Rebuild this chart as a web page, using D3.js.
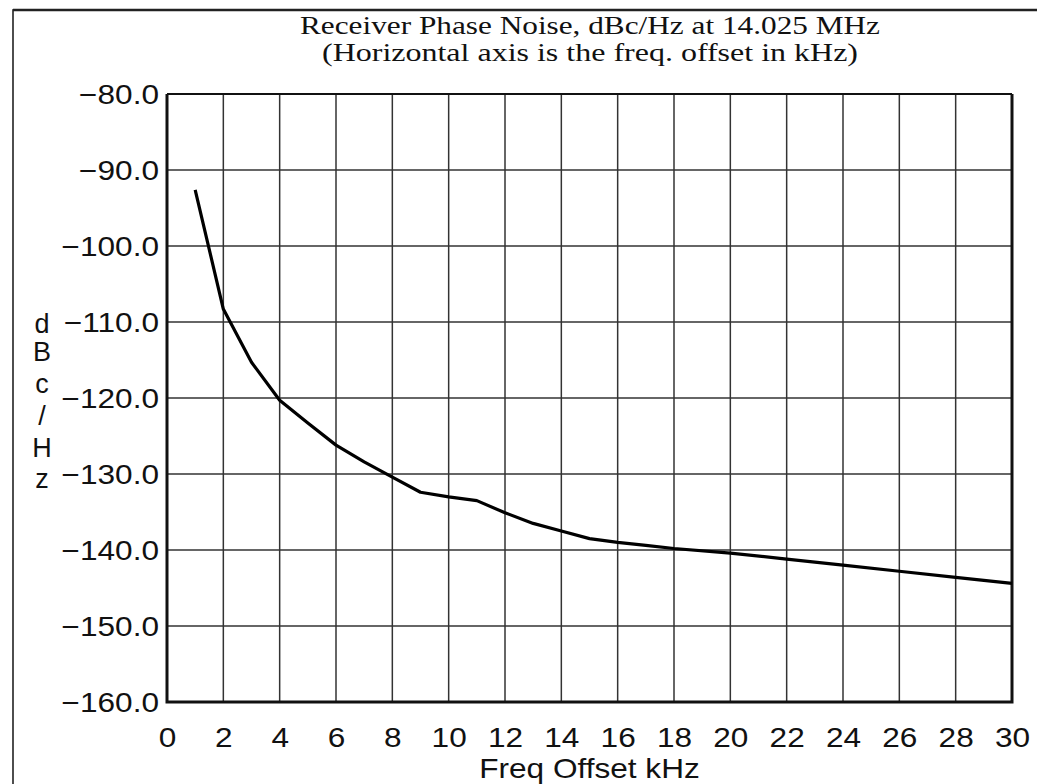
<!DOCTYPE html>
<html>
<head>
<meta charset="utf-8">
<script src="https://cdn.jsdelivr.net/npm/d3@7"></script>
<style>
  html, body { margin: 0; padding: 0; background: #fff; }
  svg { display: block; }
</style>
</head>
<body>
<svg id="chart" width="1037" height="784"></svg>
<script>
// ---- data ----
const freqOffsetKHz = [1, 2, 3, 4, 5, 6, 7, 8, 9, 10, 11, 12, 13, 14, 15, 16, 17, 18, 20, 22, 24, 26, 28, 30];
const phaseNoiseDbcHz = [-92.6, -108.3, -115.3, -120.3, -123.3, -126.2, -128.4, -130.4, -132.4, -133.0, -133.5, -135.1, -136.5, -137.5, -138.5, -139.0, -139.4, -139.8, -140.4, -141.2, -142.0, -142.8, -143.6, -144.4];
const xTicks = [0, 2, 4, 6, 8, 10, 12, 14, 16, 18, 20, 22, 24, 26, 28, 30];
const yTicks = [-80, -90, -100, -110, -120, -130, -140, -150, -160];
const titleLines = ["Receiver Phase Noise, dBc/Hz at 14.025 MHz", "(Horizontal axis is the freq. offset in kHz)"];
const xLabel = "Freq Offset kHz";
const yLabelChars = ["d", "B", "c", "/", "H", "z"];

const svg = d3.select("#chart");
const W = 1037, H = 784;
const plot = { left: 167, right: 1012, top: 94, bottom: 702 };
const stretch = 1.17;

const x = d3.scaleLinear().domain([0, 30]).range([plot.left, plot.right]);
const y = d3.scaleLinear().domain([-160, -80]).range([plot.bottom, plot.top]);

// outer frame
svg.append("rect")
  .attr("x", 13).attr("y", 10).attr("width", 1100).attr("height", 900)
  .attr("fill", "none").attr("stroke", "#222").attr("stroke-width", 1.6);
svg.append("line").attr("x1", 13).attr("x2", W + 5).attr("y1", 10).attr("y2", 10)
  .attr("stroke", "#222").attr("stroke-width", 2.4);

// title
const sansFont = "'Liberation Sans', Arial, Helvetica, sans-serif";
const serifFont = "'Liberation Serif', 'Times New Roman', serif";
const titleW = [580, 536];
const titleY = [34, 61];
titleLines.forEach((t, i) => {
  svg.append("text")
    .attr("x", (plot.left + plot.right) / 2 + 0.5)
    .attr("y", titleY[i])
    .attr("text-anchor", "middle")
    .attr("font-family", serifFont)
    .attr("font-size", 26)
    .attr("fill", "#111")
    .attr("textLength", titleW[i])
    .attr("lengthAdjust", "spacingAndGlyphs")
    .text(t);
});

// grid
const g = svg.append("g");
g.selectAll("line.vg").data(xTicks.filter(d => d > 0 && d < 30)).join("line")
  .attr("class", "vg")
  .attr("x1", d => x(d)).attr("x2", d => x(d))
  .attr("y1", plot.top).attr("y2", plot.bottom)
  .attr("stroke", "#333").attr("stroke-width", 1.5);
g.selectAll("line.hg").data(yTicks.filter(d => d > -160 && d < -80)).join("line")
  .attr("class", "hg")
  .attr("x1", plot.left).attr("x2", plot.right)
  .attr("y1", d => y(d)).attr("y2", d => y(d))
  .attr("stroke", "#333").attr("stroke-width", 1.5);

// axes (labels only)
const yAxis = d3.axisLeft(y).tickValues(yTicks).tickSize(0).tickPadding(8)
  .tickFormat(d3.format(".1f"));
const yg = svg.append("g").attr("transform", `translate(${plot.left},0)`).call(yAxis);
yg.select(".domain").remove();
yg.selectAll("text").attr("font-family", sansFont).attr("font-size", 27).attr("fill", "#111")
  .attr("x", -8 / stretch).attr("dy", "0.36em")
  .attr("transform", `scale(${stretch},1)`);

const xAxis = d3.axisBottom(x).tickValues(xTicks).tickSize(0).tickPadding(0)
  .tickFormat(d3.format("d"));
const xg = svg.append("g").attr("transform", `translate(0,${plot.bottom})`).call(xAxis);
xg.select(".domain").remove();
xg.selectAll("text").attr("font-family", sansFont).attr("font-size", 27).attr("fill", "#111")
  .attr("y", 45).attr("dy", 0)
  .attr("transform", `scale(${stretch},1)`);

// plot frame
svg.append("line").attr("x1", plot.left).attr("x2", plot.right).attr("y1", plot.top).attr("y2", plot.top)
  .attr("stroke", "#111").attr("stroke-width", 2);
svg.append("path")
  .attr("d", `M${plot.left},${plot.top}V${plot.bottom}H${plot.right}V${plot.top}`)
  .attr("fill", "none").attr("stroke", "#111").attr("stroke-width", 3);

// data line
const line = d3.line().x((d, i) => x(freqOffsetKHz[i])).y(d => y(d));
svg.append("path")
  .datum(phaseNoiseDbcHz)
  .attr("d", line)
  .attr("fill", "none").attr("stroke", "#000").attr("stroke-width", 3.2)
  .attr("stroke-linejoin", "round");

// x-axis label
const cx = (plot.left + plot.right) / 2;
svg.append("text")
  .attr("x", cx / stretch).attr("y", 778)
  .attr("transform", `scale(${stretch},1)`)
  .attr("text-anchor", "middle")
  .attr("font-family", sansFont).attr("font-size", 27).attr("fill", "#111")
  .text(xLabel);

// y-axis label (stacked characters)
const yLabelBase = [333, 361, 393, 425, 457, 488];
const yl = svg.append("text")
  .attr("font-family", sansFont).attr("font-size", 27).attr("fill", "#111")
  .attr("text-anchor", "middle");
yl.selectAll("tspan").data(yLabelChars).join("tspan")
  .attr("x", 42).attr("y", (d, i) => yLabelBase[i])
  .text(d => d);
</script>
</body>
</html>
